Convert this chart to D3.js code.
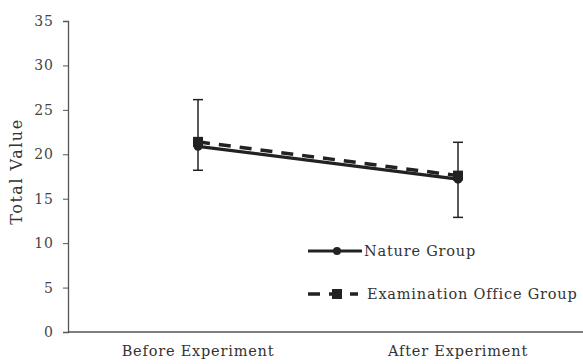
<!DOCTYPE html>
<html>
<head>
<meta charset="utf-8">
<script src="https://cdn.jsdelivr.net/npm/d3@7"></script>
<style>
    body { margin: 0; background: #fff; }
    svg { display: block; }
    .tick text { font-family: "DejaVu Serif", serif; font-size: 14px; letter-spacing: 1px; fill: #444; }
    .label { font-family: "DejaVu Serif", serif; font-size: 14.5px; letter-spacing: 0.8px; fill: #333; }
</style>
</head>
<body>
<svg id="chart" width="583" height="364"></svg>
<script>
// Data
var categories = ["Before Experiment", "After Experiment"];
var natureValues = [20.9, 17.2];
var examValues = [21.4, 17.6];
var errorUpper = [26.15, 21.35];
var errorLower = [18.2, 12.9];
var yTicks = [0, 5, 10, 15, 20, 25, 30, 35];
var seriesNames = ["Nature Group", "Examination Office Group"];

var padding = { top: 21, right: 0, bottom: 32, left: 68 };
var svgWidth = 583, svgHeight = 364;
var chartHeight = svgHeight - padding.top - padding.bottom;

var svg = d3.select("#chart");
var ink = "#222";

var xScale = d3.scaleBand()
    .domain(categories)
    .range([padding.left, padding.left + 520]);

var yScale = d3.scaleLinear()
    .domain([0, 35])
    .range([padding.top + chartHeight, padding.top]);

var cx = function(i) { return xScale(categories[i]) + xScale.bandwidth() / 2; };

// Y axis
svg.append("g")
    .attr("transform", `translate(${padding.left}, 0)`)
    .call(d3.axisLeft(yScale).tickValues(yTicks).tickSize(5).tickPadding(9))
    .call(g => g.select(".domain").attr("stroke", "#555").attr("stroke-width", 1.3))
    .call(g => g.selectAll(".tick line").attr("stroke", "#555"));

// X axis (no ticks)
svg.append("line")
    .attr("x1", padding.left)
    .attr("x2", svgWidth)
    .attr("y1", yScale(0))
    .attr("y2", yScale(0))
    .attr("stroke", "#555")
    .attr("stroke-width", 1.3);

categories.forEach(function(c, i) {
    svg.append("text")
        .attr("class", "label")
        .attr("x", cx(i))
        .attr("y", 356)
        .attr("text-anchor", "middle")
        .text(c);
});

// Y label
svg.append("text")
    .attr("class", "label")
    .attr("transform", `translate(22, ${yScale(17.5) - 5}) rotate(-90)`)
    .attr("text-anchor", "middle")
    .style("font-size", "16px")
    .style("letter-spacing", "1.5px")
    .text("Total Value");

// Error bars
categories.forEach(function(c, i) {
    var x = cx(i);
    svg.append("line")
        .attr("x1", x).attr("x2", x)
        .attr("y1", yScale(errorUpper[i])).attr("y2", yScale(errorLower[i]))
        .attr("stroke", ink).attr("stroke-width", 1.5);
    [errorUpper[i], errorLower[i]].forEach(function(v) {
        svg.append("line")
            .attr("x1", x - 5).attr("x2", x + 5)
            .attr("y1", yScale(v)).attr("y2", yScale(v))
            .attr("stroke", ink).attr("stroke-width", 1.5);
    });
});

var line = d3.line()
    .x(function(d, i) { return cx(i); })
    .y(function(d) { return yScale(d); });

// Nature group: solid line with circles
svg.append("path")
    .attr("d", line(natureValues))
    .attr("fill", "none")
    .attr("stroke", ink)
    .attr("stroke-width", 3.2);

svg.selectAll(".natureDot")
    .data(natureValues)
    .enter()
    .append("circle")
        .attr("cx", function(d, i) { return cx(i); })
        .attr("cy", function(d) { return yScale(d); })
        .attr("r", 4.5)
        .attr("fill", ink);

// Examination office group: dashed line with squares
svg.append("path")
    .attr("d", line(examValues))
    .attr("fill", "none")
    .attr("stroke", ink)
    .attr("stroke-width", 3.5)
    .attr("stroke-dasharray", "12,9");

svg.selectAll(".examDot")
    .data(examValues)
    .enter()
    .append("rect")
        .attr("x", function(d, i) { return cx(i) - 5; })
        .attr("y", function(d) { return yScale(d) - 5; })
        .attr("width", 10)
        .attr("height", 10)
        .attr("fill", ink);

// Legend
var legend = svg.append("g").attr("transform", "translate(308, 0)");

legend.append("line")
    .attr("x1", 0).attr("x2", 54).attr("y1", 251).attr("y2", 251)
    .attr("stroke", ink).attr("stroke-width", 3);
legend.append("circle")
    .attr("cx", 29).attr("cy", 251).attr("r", 4).attr("fill", ink);
legend.append("text")
    .attr("class", "label")
    .attr("x", 56).attr("y", 256)
    .text(seriesNames[0]);

legend.append("line")
    .attr("x1", 0).attr("x2", 50).attr("y1", 294).attr("y2", 294)
    .attr("stroke", ink).attr("stroke-width", 3.5)
    .attr("stroke-dasharray", "12,9");
legend.append("rect")
    .attr("x", 24).attr("y", 289).attr("width", 10).attr("height", 10).attr("fill", ink);
legend.append("text")
    .attr("class", "label")
    .attr("x", 59).attr("y", 299)
    .text(seriesNames[1]);
</script>
</body>
</html>
